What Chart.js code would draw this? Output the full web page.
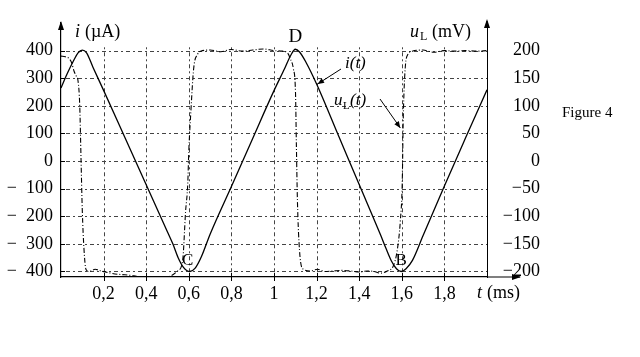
<!DOCTYPE html>
<html><head><meta charset="utf-8">
<style>html,body{margin:0;padding:0;background:#fff}canvas{display:block}</style>
<script src="https://cdn.jsdelivr.net/npm/chart.js@4"></script>
</head><body>
<canvas id="c" width="640" height="357"></canvas>
<script>
// ---- data (t in ms) ----
const tI = [0, 0.03, 0.06, 0.08, 0.10, 0.12, 0.15, 0.20, 0.30, 0.40,
  0.50, 0.525, 0.55, 0.575, 0.605, 0.63, 0.66, 0.70, 0.80, 0.90,
  1.00, 1.05, 1.08, 1.10, 1.12, 1.15, 1.20, 1.30, 1.40, 1.50,
  1.525, 1.55, 1.575, 1.597, 1.62, 1.65, 1.70, 1.80, 1.90, 2.00];
const iVals = [265, 318, 365, 392, 402, 392, 340, 256, 85, -86,
  -257, -300, -350, -385, -400, -388, -345, -265, -92, 82,
  255, 335, 385, 405, 395, 358, 279, 97, -85, -267,
  -315, -360, -390, -400, -390, -360, -270, -90, 85, 258];
const tU = [0, 0.02, 0.037, 0.05, 0.061, 0.07, 0.08, 0.088, 0.094, 0.1,
  0.108, 0.117, 0.13, 0.141, 0.16, 0.187, 0.22, 0.267, 0.3, 0.342,
  0.407, 0.468, 0.515, 0.548, 0.571, 0.585, 0.595, 0.6, 0.609, 0.623,
  0.642, 0.656, 0.7, 0.75, 0.8, 0.85, 0.9, 0.95, 1.0, 1.04,
  1.063, 1.077, 1.091, 1.101, 1.105, 1.11, 1.12, 1.138, 1.171, 1.204,
  1.24, 1.279, 1.32, 1.358, 1.4, 1.438, 1.47, 1.499, 1.532, 1.56,
  1.578, 1.593, 1.602, 1.607, 1.616, 1.63, 1.649, 1.7, 1.75, 1.8,
  1.85, 1.9, 1.95, 2.0];
const uVals = [190, 189, 186, 178, 163, 155, 145, 100, 4, -90,
  -160, -196, -200, -199, -196, -199, -202, -205, -206, -208,
  -212, -212, -208, -199, -181, -91, -42, 18, 85, 168,
  194, 199, 201, 198, 202, 199, 201, 203, 200, 199,
  196, 185, 167, 123, 31, -72, -163, -196, -199, -196,
  -200, -199, -198, -199, -201, -199, -200, -203, -199, -190,
  -163, -109, -40, 80, 168, 194, 199, 201, 197, 200,
  199, 200, 199, 200];
const xTicks = [0.2, 0.4, 0.6, 0.8, 1.0, 1.2, 1.4, 1.6, 1.8];
const iTicks = [400, 300, 200, 100, 0, -100, -200, -300, -400];
const uTicks = [200, 150, 100, 50, 0, -50, -100, -150, -200];

const SERIF = "'Liberation Serif', 'DejaVu Serif', serif";

const decor = {
  id: 'decor',
  beforeDatasetsDraw(chart) {
    const ctx = chart.ctx, ca = chart.chartArea, sx = chart.scales.x, sy = chart.scales.yI;
    ctx.save();
    ctx.strokeStyle = '#444'; ctx.lineWidth = 1; ctx.setLineDash([2, 3, 4, 3]);
    iTicks.forEach(v => {
      const y = Math.round(sy.getPixelForValue(v)) + 0.5;
      ctx.beginPath(); ctx.moveTo(ca.left, y); ctx.lineTo(ca.right, y); ctx.stroke();
    });
    xTicks.forEach(v => {
      const x = Math.round(sx.getPixelForValue(v)) + 0.5;
      ctx.beginPath(); ctx.moveTo(x, sy.getPixelForValue(412)); ctx.lineTo(x, ca.bottom); ctx.stroke();
    });
    ctx.restore();
  },
  afterDraw(chart) {
    const ctx = chart.ctx, ca = chart.chartArea, sx = chart.scales.x, sy = chart.scales.yI, su = chart.scales.yU;
    ctx.save();
    ctx.strokeStyle = '#000'; ctx.fillStyle = '#000'; ctx.lineWidth = 1.2; ctx.setLineDash([]);
    // x axis extension + arrow
    const yb = ca.bottom;
    ctx.beginPath(); ctx.moveTo(ca.right, yb); ctx.lineTo(ca.right + 33, yb); ctx.stroke();
    ctx.beginPath(); ctx.moveTo(ca.right + 34, yb); ctx.lineTo(ca.right + 25, yb - 3); ctx.lineTo(ca.right + 25, yb + 3); ctx.closePath(); ctx.fill();
    // left axis arrow
    ctx.beginPath(); ctx.moveTo(ca.left, ca.top - 2); ctx.lineTo(ca.left - 3, ca.top + 7); ctx.lineTo(ca.left + 3, ca.top + 7); ctx.closePath(); ctx.fill();
    // right axis arrow
    ctx.beginPath(); ctx.moveTo(ca.right, ca.top - 4); ctx.lineTo(ca.right - 3, ca.top + 5); ctx.lineTo(ca.right + 3, ca.top + 5); ctx.closePath(); ctx.fill();
    ctx.beginPath(); ctx.moveTo(ca.right, ca.top - 2); ctx.lineTo(ca.right, ca.top + 2); ctx.stroke();
    // tick marks
    ctx.lineWidth = 1;
    xTicks.forEach(v => {
      const x = Math.round(sx.getPixelForValue(v)) + 0.5;
      ctx.beginPath(); ctx.moveTo(x, yb - 4); ctx.lineTo(x, yb + 4); ctx.stroke();
    });
    iTicks.forEach(v => {
      const y = Math.round(sy.getPixelForValue(v)) + 0.5;
      ctx.beginPath(); ctx.moveTo(ca.left, y); ctx.lineTo(ca.left + 4, y); ctx.stroke();
    });
    // titles
    ctx.textBaseline = 'middle'; ctx.textAlign = 'left';
    ctx.font = 'italic 18px ' + SERIF; ctx.fillText('i', 75, 32);
    ctx.font = '18px ' + SERIF; ctx.fillText('(µA)', 85, 32);
    ctx.font = 'italic 18px ' + SERIF; ctx.fillText('u', 410, 32);
    ctx.font = '12px ' + SERIF; ctx.fillText('L', 420, 37);
    ctx.font = '18px ' + SERIF; ctx.fillText('(mV)', 432, 32);
    ctx.font = 'italic 18px ' + SERIF; ctx.fillText('t', 477, 293);
    ctx.font = '18px ' + SERIF; ctx.fillText('(ms)', 487, 293);
    ctx.font = '15px ' + SERIF; ctx.fillText('Figure 4', 562, 113);
    // point labels
    ctx.textAlign = 'center';
    ctx.font = '19px ' + SERIF;
    ctx.fillText('D', sx.getPixelForValue(1.10), sy.getPixelForValue(400) - 14);
    ctx.font = '17px ' + SERIF;
    ctx.fillText('C', sx.getPixelForValue(0.595), sy.getPixelForValue(-360));
    ctx.fillText('B', sx.getPixelForValue(1.597), sy.getPixelForValue(-360));
    // curve labels with arrows
    ctx.textAlign = 'left';
    ctx.font = 'italic 17px ' + SERIF; ctx.fillText('i(t)', 345, 64);
    ctx.font = 'italic 17px ' + SERIF; ctx.fillText('u', 334, 101);
    ctx.font = '11px ' + SERIF; ctx.fillText('L', 343, 106);
    ctx.font = 'italic 17px ' + SERIF; ctx.fillText('(t)', 350, 101);
    const arrow = (x0, y0, x1, y1) => {
      ctx.beginPath(); ctx.moveTo(x0, y0); ctx.lineTo(x1, y1); ctx.stroke();
      const a = Math.atan2(y1 - y0, x1 - x0), L = 7, w = 0.4;
      ctx.beginPath(); ctx.moveTo(x1, y1);
      ctx.lineTo(x1 - L * Math.cos(a - w), y1 - L * Math.sin(a - w));
      ctx.lineTo(x1 - L * Math.cos(a + w), y1 - L * Math.sin(a + w));
      ctx.closePath(); ctx.fill();
    };
    arrow(341, 69, sx.getPixelForValue(1.2) + 1, sy.getPixelForValue(279));
    arrow(380, 99, sx.getPixelForValue(1.607) - 3, su.getPixelForValue(60));
    ctx.restore();
  }
};

const fmtX = v => (Math.abs(v - 1) < 1e-9 ? '1' : v.toFixed(1).replace('.', ','));

new Chart(document.getElementById('c'), {
  type: 'line',
  data: {
    datasets: [
      { label: 'i(t)', data: tI.map((t, k) => ({ x: t, y: iVals[k] })), yAxisID: 'yI',
        borderColor: '#000', borderWidth: 1.3, pointRadius: 0, cubicInterpolationMode: 'monotone' },
      { label: 'uL(t)', data: tU.map((t, k) => ({ x: t, y: uVals[k] })), yAxisID: 'yU',
        borderColor: '#000', borderWidth: 1.1, borderDash: [5, 2, 1, 2], pointRadius: 0, cubicInterpolationMode: 'monotone' }
    ]
  },
  options: {
    responsive: false, animation: false, devicePixelRatio: 1,
    layout: { padding: { left: 0, top: 23, right: 100, bottom: 50 } },
    plugins: { legend: { display: false }, tooltip: { enabled: false } },
    scales: {
      x: {
        type: 'linear', min: 0, max: 2,
        afterBuildTicks(s) { s.ticks = xTicks.map(v => ({ value: v })); },
        afterFit(s) { s.height = 30; },
        grid: { display: false, drawTicks: false },
        border: { display: true, color: '#000', width: 1.2 },
        ticks: { padding: 6, color: '#000', font: { family: SERIF, size: 18 }, maxRotation: 0, autoSkip: false, callback: v => fmtX(v) }
      },
      yI: {
        position: 'left', min: -420, max: 500,
        afterBuildTicks(s) { s.ticks = iTicks.map(v => ({ value: v })); },
        afterFit(s) { s.width = 61; },
        grid: { display: false, drawTicks: false },
        border: { display: true, color: '#000', width: 1.2 },
        ticks: { padding: 8, color: '#000', font: { family: SERIF, size: 18 }, autoSkip: false,
          callback: v => (v < 0 ? '\u2212\u2002' + Math.abs(v) : '' + v) }
      },
      yU: {
        position: 'right', min: -210, max: 250,
        afterBuildTicks(s) { s.ticks = uTicks.map(v => ({ value: v })); },
        afterFit(s) { s.width = 53; },
        grid: { display: false, drawTicks: false },
        border: { display: true, color: '#000', width: 1, dash: [6, 3, 1, 3] },
        ticks: { padding: 6, color: '#000', crossAlign: 'far', font: { family: SERIF, size: 18 }, autoSkip: false,
          callback: v => (v < 0 ? '\u2212' + Math.abs(v) : '' + v) }
      }
    }
  },
  plugins: [decor]
});
</script>
</body></html>
